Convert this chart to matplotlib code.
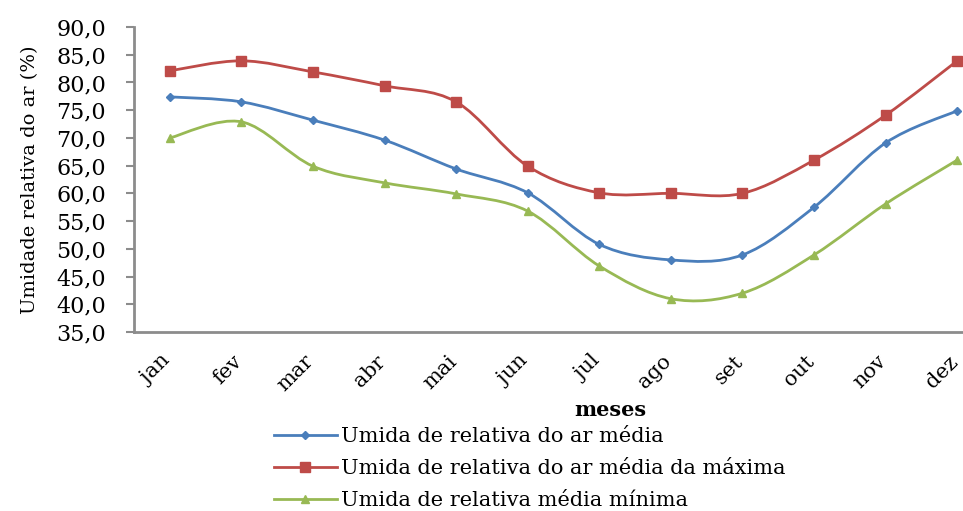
import numpy as np
import matplotlib
matplotlib.use("Agg")
import matplotlib.pyplot as plt
from matplotlib.path import Path
from matplotlib.patches import PathPatch
from matplotlib.lines import Line2D
from matplotlib.transforms import ScaledTranslation

months = ["jan", "fev", "mar", "abr", "mai", "jun", "jul", "ago", "set", "out", "nov", "dez"]
media = [77.4, 76.5, 73.2, 69.6, 64.4, 60.1, 50.8, 48.0, 48.9, 57.5, 69.1, 74.9]
maxima = [82.1, 83.9, 81.9, 79.4, 76.5, 64.9, 60.1, 60.0, 60.0, 66.0, 74.1, 83.9]
minima = [70.0, 72.9, 64.9, 61.9, 59.9, 56.8, 46.9, 41.0, 42.0, 48.9, 58.1, 66.0]
labels = ["Umida de relativa do ar média",
          "Umida de relativa do ar média da máxima",
          "Umida de relativa média mínima"]
colors = ["#4A7EBB", "#BE4B48", "#98B954"]
markers = ["D", "s", "^"]
msizes = [4.5, 7, 6]

FONT = "DejaVu Serif"
plt.rcParams["font.family"] = [FONT]

fig = plt.figure(figsize=(9.63, 5.11), dpi=100)
ax = fig.add_axes([134/963, 1 - 332/511, (993 - 134)/963, (332 - 27)/511])

def smooth_path(xs, ys):
    pts = np.column_stack([xs, ys]).astype(float)
    n = len(pts)
    verts = [pts[0]]
    codes = [Path.MOVETO]
    for i in range(n - 1):
        p0 = pts[i - 1] if i > 0 else pts[i]
        p1 = pts[i]
        p2 = pts[i + 1]
        p3 = pts[i + 2] if i + 2 < n else pts[i + 1]
        c1 = p1 + (p2 - p0) / 6.0
        c2 = p2 - (p3 - p1) / 6.0
        verts += [c1, c2, p2]
        codes += [Path.CURVE4] * 3
    return Path(verts, codes)

x = np.arange(len(months))
handles = []
for ys, c, m, ms, lab in zip([media, maxima, minima], colors, markers, msizes, labels):
    patch = PathPatch(smooth_path(x, ys), facecolor="none", edgecolor=c, lw=2.0, zorder=2)
    ax.add_patch(patch)
    ax.plot(x, ys, linestyle="none", marker=m, color=c, markersize=ms, zorder=3)
    handles.append(Line2D([0], [0], color=c, lw=2.0, marker=m, markersize=ms))

ax.set_xlim(-0.5, 11.5)
ax.set_ylim(35, 90)
ax.set_yticks(np.arange(35, 90.1, 5))
ax.set_yticklabels([f"{v:.1f}".replace(".", ",") for v in np.arange(35, 90.1, 5)])
ax.set_xticks(x)
ax.set_xticklabels([])
lbl_tr = ax.get_xaxis_transform() + ScaledTranslation(-9/100, -20/100, fig.dpi_scale_trans)
for xi, m in zip(x, months):
    ax.text(xi, 0, m, transform=lbl_tr, rotation=45, ha="right", va="top",
            rotation_mode="anchor", fontsize=15, clip_on=False)

for s in ["top", "right"]:
    ax.spines[s].set_visible(False)
for s in ["left", "bottom"]:
    ax.spines[s].set_color("#8c8c8c")
    ax.spines[s].set_linewidth(2.0)
ax.tick_params(axis="y", length=6, width=1.5, color="#8c8c8c", pad=14, labelsize=16)
ax.tick_params(axis="x", length=0)

ax.set_ylabel("Umidade relativa do ar (%)", fontsize=14)
ax.yaxis.set_label_coords(-0.111, 0.5)
ax.text((610 - 134) / (993 - 134), 1 - (410 - 27) / (332 - 27), "meses",
        transform=ax.transAxes, ha="center", va="center", fontsize=15, fontweight="bold")

fig.legend(handles, labels, loc="upper left", bbox_to_anchor=(274/963, 1 - 427/511),
           frameon=False, fontsize=15, handlelength=3.0, handletextpad=0.2,
           labelspacing=0.62, borderpad=0, borderaxespad=0)

fig.savefig("out.png", dpi=100)
